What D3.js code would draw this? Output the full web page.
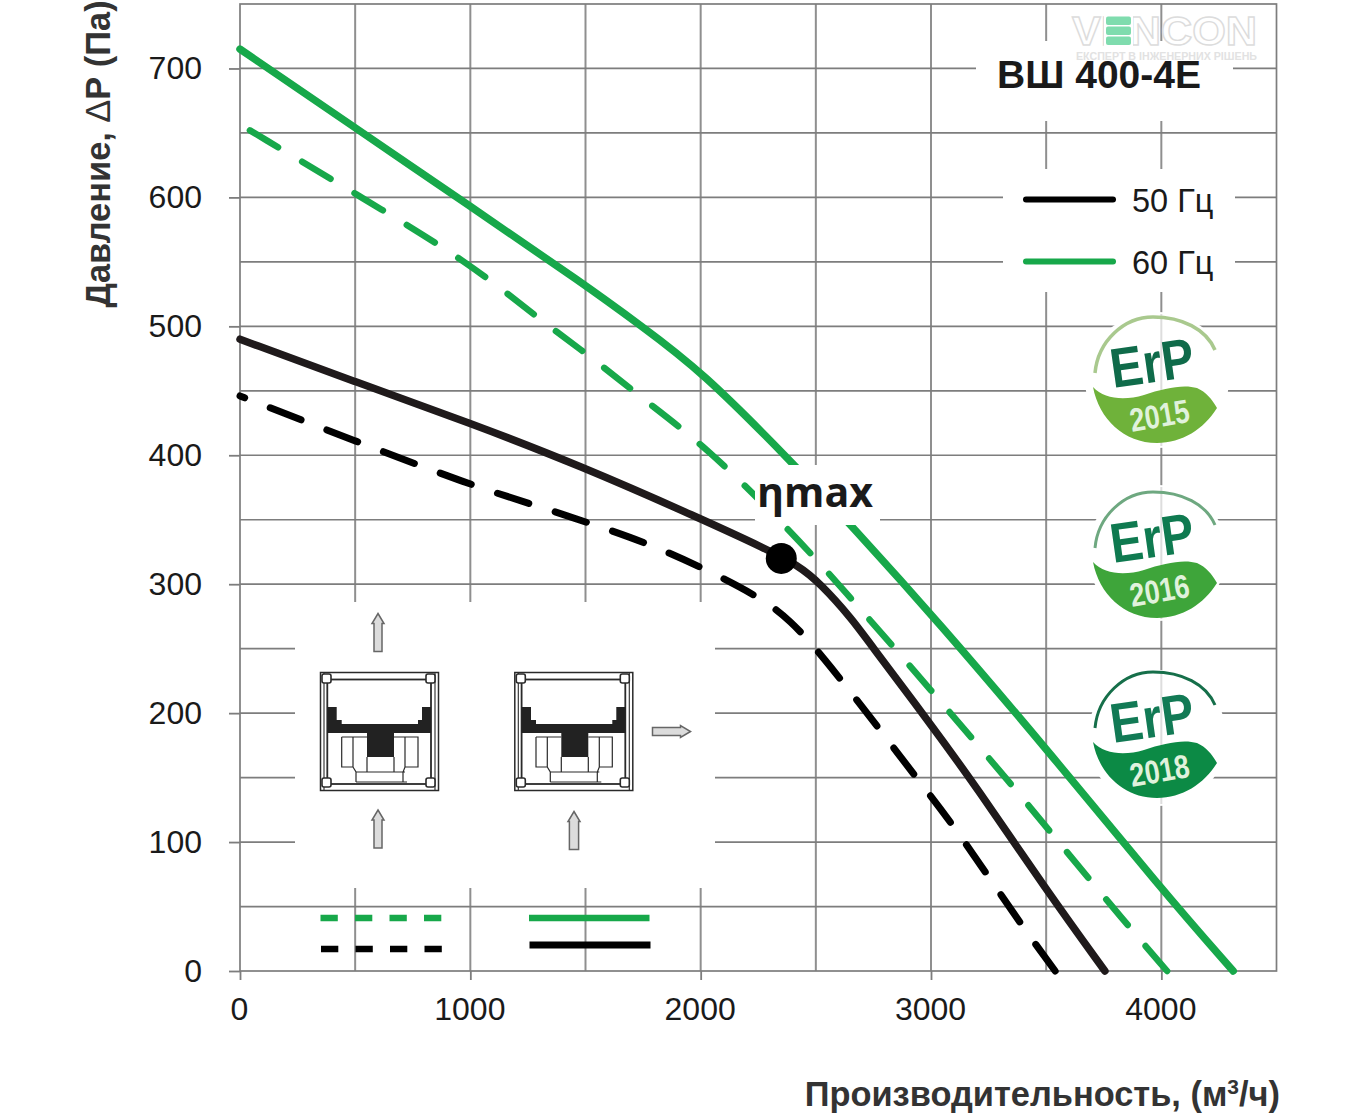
<!DOCTYPE html>
<html><head><meta charset="utf-8">
<script src="https://cdn.jsdelivr.net/npm/d3@7"></script>
<style>html,body{margin:0;padding:0;background:#fff}svg{display:block}text{font-family:"Liberation Sans",Arial,sans-serif}</style>
</head><body><svg id="c" width="1362" height="1114"></svg>
<script>
const xTicks=[0,1000,2000,3000,4000];
const yTicks=[0,100,200,300,400,500,600,700];
const flow60Solid=[0,500,1000,1500,1737,2000,2400,2662,3026,3517,4003,4312];
const press60Solid=[715,654,593,532,501,466,394,344,272,169,63,0];
const flow60Dash=[43,500,1000,1316,1520,1746,2028,2375,2605,3009,3357,3517,3851,4025];
const press60Dash=[652,603,549,503,477,444,406,344,299,216,143,108,36,0];
const flow50Solid=[0,500,1000,1476,1998,2288,2419,2518,2662,2722,2996,3200,3500,3755];
const press50Solid=[490,457,425,392,351,327,315,301,272,257,192,142,63,0];
const flow50Dash=[0,500,1000,1268,1507,1767,2006,2267,2388,2518,2788,2944,3091,3387,3539];
const press50Dash=[446,411,377,362,348,332,313,289,272,247,185,148,115,37,0];
const etaPoint=[2350,320];
const legendLabels=["50 Гц","60 Гц"];
const erpYears=["2015","2016","2018"];
const GREEN="#17a84a",BLACK="#1f1a1b",GRIDV="#8f8f8f",GRIDH="#7d7d7d";

const svg=d3.select("#c");
const x=d3.scaleLinear().domain([0,4500]).range([240,1276.5]);
const y=d3.scaleLinear().domain([0,750]).range([971,4]);

// grid
const g=svg.append("g");
g.selectAll("line.v").data(d3.range(500,4500,500)).join("line").attr("class","v")
 .attr("x1",d=>x(d)).attr("x2",d=>x(d)).attr("y1",y(750)).attr("y2",y(0))
 .attr("stroke",GRIDV).attr("stroke-width",2);
g.selectAll("line.h").data(d3.range(50,750,50)).join("line").attr("class","h")
 .attr("x1",x(0)).attr("x2",x(4500)).attr("y1",d=>y(d)).attr("y2",d=>y(d))
 .attr("stroke",GRIDH).attr("stroke-width",1.7);
// frame
svg.append("rect").attr("x",x(0)).attr("y",y(750)).attr("width",x(4500)-x(0)).attr("height",y(0)-y(750))
 .attr("fill","none").attr("stroke",GRIDH).attr("stroke-width",1.7);

// axes
const tickFont="'Liberation Sans',Arial,sans-serif";
const ax=svg.append("g").attr("transform",`translate(0,${y(0)})`).call(d3.axisBottom(x).tickValues(xTicks).tickSize(9).tickFormat(d3.format("d")));
ax.select(".domain").remove();
ax.selectAll("line").attr("stroke",GRIDH).attr("stroke-width",1.8);
ax.selectAll("text").attr("y",null).attr("dy",null).attr("transform","translate(-1,48.5)").attr("font-size",32).attr("fill","#1a1a1a").style("font-family",tickFont);
const ay=svg.append("g").attr("transform",`translate(${x(0)},0)`).call(d3.axisLeft(y).tickValues(yTicks).tickSize(11).tickFormat(d3.format("d")));
ay.select(".domain").remove();
ay.selectAll("line").attr("stroke",GRIDH).attr("stroke-width",1.8);
ay.selectAll("text").attr("x",-38).attr("y",-1).attr("dy","0.36em").attr("font-size",32).attr("fill","#1a1a1a").style("font-family",tickFont);

// grid-covering white patches
const patch=(a,b,w,h)=>svg.append("rect").attr("x",a).attr("y",b).attr("width",w).attr("height",h).attr("fill","#fff");
patch(295,602,420,286);
patch(976,41,257,80);
patch(1003,169,232,123);
const ell=(cx,cy,rx,ry)=>svg.append("ellipse").attr("cx",cx).attr("cy",cy).attr("rx",rx).attr("ry",ry).attr("fill","#fff");
ell(1157,380,72,68);ell(1157,553,70,68);ell(1157,738,70,68);
[380,553,738].forEach(c=>svg.append("line").attr("x1",x(4000)).attr("x2",x(4000)).attr("y1",c-66).attr("y2",c+66).attr("stroke","#ddd").attr("stroke-width",2));

// curves
const line=d3.line().x(d=>x(d[0])).y(d=>y(d[1])).curve(d3.curveBasis);
const curves=[[flow60Solid,press60Solid,GREEN,false,7.5,0],[flow60Dash,press60Dash,GREEN,true,6.5,0],[flow50Solid,press50Solid,BLACK,false,7.5,0],[flow50Dash,press50Dash,"#000",true,7,28]];
svg.selectAll("path.curve").data(curves).join("path").attr("class","curve")
 .attr("d",d=>line(d[0].map((v,i)=>[v,d[1][i]])))
 .attr("fill","none").attr("stroke",d=>d[2]).attr("stroke-width",d=>d[4])
 .attr("stroke-linecap","round")
 .each(function(d){
   if(!d[3])return;
   // dash rhythm of about 60 px, fitted so that the last dash lands on the axis
   const dashLen=33,L=this.getTotalLength()+d[5]-dashLen;
   const period=L/Math.round(L/60);
   d3.select(this).attr("stroke-dasharray",`${dashLen} ${period-dashLen}`).attr("stroke-dashoffset",d[5]);
 });

// eta label
patch(755,465,125,60);
svg.append("text").attr("x",757).attr("y",507).attr("font-size",41).attr("font-weight",700).attr("fill","#1a1a1a")
 .attr("textLength",116).attr("lengthAdjust","spacingAndGlyphs")
 .style("font-family","'Open Sans',sans-serif").text("ηmax");
svg.append("circle").attr("cx",x(etaPoint[0])).attr("cy",y(etaPoint[1])).attr("r",15.5).attr("fill","#000");

// titles
svg.append("text").attr("x",1280).attr("y",1106).attr("text-anchor","end").attr("font-size",34.4).attr("font-weight",700).attr("fill","#333")
 .html('Производительность, (м<tspan dy="-12" font-size="21">3</tspan><tspan dy="12">/ч)</tspan>');
svg.append("text").attr("transform","translate(110,154) rotate(-90)").attr("text-anchor","middle").attr("font-size",34.4).attr("font-weight",700).attr("fill","#333")
 .html('Давление, <tspan font-weight="400">Δ</tspan>Р (Па)');
svg.append("text").attr("x",997).attr("y",88).attr("font-size",39).attr("font-weight",700).attr("fill","#1a1a1a").text("ВШ 400-4Е");

// legend
[[BLACK,199.5],[GREEN,261.5]].forEach((l,i)=>{
 svg.append("line").attr("x1",1026).attr("x2",1113).attr("y1",l[1]).attr("y2",l[1]).attr("stroke",i?GREEN:"#000").attr("stroke-width",6).attr("stroke-linecap","round");
 svg.append("text").attr("x",1132).attr("y",l[1]+12.5).attr("font-size",32.5).attr("fill","#1a1a1a").text(legendLabels[i]);
});

// inset legend lines
const dash=(a,yy,col)=>svg.append("line").attr("x1",a).attr("x2",a+121).attr("y1",yy).attr("y2",yy).attr("stroke",col).attr("stroke-width",6.5).attr("stroke-dasharray","17.3 17.2");
dash(320.5,918,GREEN);dash(321,949,"#000");
svg.append("line").attr("x1",529).attr("x2",649.5).attr("y1",918).attr("y2",918).attr("stroke",GREEN).attr("stroke-width",6.5);
svg.append("line").attr("x1",529.5).attr("x2",650.5).attr("y1",945).attr("y2",945).attr("stroke","#000").attr("stroke-width",7);

// unit icons
function unit(ox,oy){
 const u=svg.append("g").attr("transform",`translate(${ox},${oy})`).attr("fill","none").attr("stroke","#2a2a2a");
 u.append("rect").attr("x",0.5).attr("y",0.5).attr("width",118).attr("height",118).attr("stroke-width",1.5);
 u.append("path").attr("stroke-width",1.1).attr("d","M4,1V118M115,1V118");
 u.append("rect").attr("x",7.3).attr("y",7.5).attr("width",103.7).attr("height",104.5).attr("stroke-width",1.8);
 [[3,3],[107,3],[3,107],[107,107]].forEach(c=>u.append("rect").attr("x",c[0]-1).attr("y",c[1]-1).attr("width",9).attr("height",9).attr("rx",2).attr("fill","#fff").attr("stroke-width",1.6));
 u.append("path").attr("fill","#222").attr("stroke","none")
  .attr("d","M7.3,35H16.7V48H21.7V52H98V48H102V35H111V61H74V85H47V61H7.3Z");
 u.append("path").attr("stroke-width",1.2).attr("d","M21.7,65H47M21.7,65V95H33L36,100V110M33,65V95M47,85V100M74,85V100M36,100H85M74,65H98V95H85L83,100V110M85,65V95M36,110H87");
}
unit(320,672);unit(514.3,672);

function arrow(cx,cy,rot,w){
 svg.append("path").attr("transform",`translate(${cx},${cy}) rotate(${rot})`)
  .attr("d",`M0,-19L6,-9H${w}V19H${-w}V-9H-6Z`).attr("fill","#dcdcdc").attr("stroke","#666").attr("stroke-width",1.5);
}
arrow(378,632.5,0,4);arrow(378,829,0,4);arrow(574,830.5,0,4.6);arrow(671.5,731.5,90,4);

// ErP badges
const badgeCols=[["#6fb23a","#0f6b4a","#a9c98e",3.5],["#3ea53a","#0f7a50","#6ea880",3],["#0c8a45","#127a55","#166f4a",3]];
function badge(cx,cy,i){
 const b=svg.append("g").attr("transform",`translate(${cx},${cy})`);
 b.append("path").attr("d","M-59,-8C-56,-40 -30,-64 -1,-64C28,-64 52,-52 61,-31").attr("fill","none").attr("stroke",badgeCols[i][2]).attr("stroke-width",badgeCols[i][3]);
 b.append("path").attr("d","M-61,6C-50,18 -30,20 -10,14C10,7 30,3 43,7C52,11 58,18 63,27C50,48 28,62 3,62C-30,62 -55,38 -61,6Z").attr("fill",badgeCols[i][0]);
 b.append("text").attr("transform","translate(-41,7) rotate(-8)").attr("font-size",56).attr("font-weight",700).attr("fill",badgeCols[i][1]).attr("textLength",84).attr("lengthAdjust","spacingAndGlyphs").text("ErP");
 b.append("text").attr("transform","translate(-22,51) rotate(-10)").attr("font-size",33).attr("font-weight",700).attr("fill","#e0f2dc").attr("textLength",60).attr("lengthAdjust","spacingAndGlyphs").text(erpYears[i]);
}
badge(1154,381,0);badge(1154,556,1);badge(1154,736,2);

// watermark
svg.append("text").attr("x",1072).attr("y",45).attr("font-size",41).attr("font-weight",700).attr("fill","#fff").attr("stroke","#dcdcdc").attr("stroke-width",1.4)
 .attr("textLength",185).attr("lengthAdjust","spacingAndGlyphs").text("VENCON");
patch(1104,16,29,30);
[0,1,2].forEach(i=>svg.append("rect").attr("x",1106).attr("y",16.5+i*10).attr("width",25).attr("height",8.5).attr("rx",2).attr("fill","#7fdcae"));
svg.append("text").attr("x",1076).attr("y",60).attr("font-size",10.5).attr("font-weight",700).attr("fill","#e2e2e2")
 .attr("textLength",181).attr("lengthAdjust","spacingAndGlyphs").text("ЕКСПЕРТ В ІНЖЕНЕРНИХ РІШЕНЬ");
</script></body></html>
